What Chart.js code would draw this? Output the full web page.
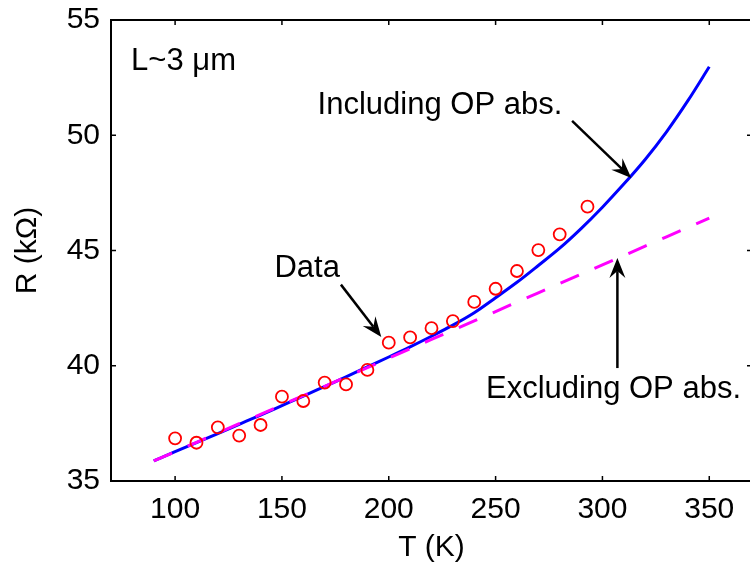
<!DOCTYPE html>
<html><head><meta charset="utf-8">
<script src="https://cdn.jsdelivr.net/npm/chart.js@4/dist/chart.umd.min.js"></script>
<style>html,body{margin:0;padding:0;overflow:hidden;background:#fff}
#wrap{width:760px;height:569px;position:relative}</style></head>
<body><div id="wrap"><canvas id="c"></canvas></div>
<script>
const xTicks = [100, 150, 200, 250, 300, 350];
const yTicks = [35, 40, 45, 50, 55];
const dataT = [100,110,120,130,140,150,160,170,180,190,200,210,220,230,240,250,260,270,280,293];
const dataR = [36.85,36.66,37.33,36.97,37.43,38.66,38.47,39.27,39.19,39.82,41.0,41.23,41.63,41.94,42.77,43.34,44.11,45.02,45.70,46.90];
const fitT = [90,100,110,120,130,140,150,160,170,180,190,200,210,220,230,240,250,260,270,280,290,300,310,320,330,340,350];
const inclR = [35.87,36.27,36.66,37.06,37.46,37.86,38.27,38.68,39.10,39.52,39.95,40.38,40.82,41.28,41.76,42.30,42.95,43.62,44.35,45.10,45.95,46.88,47.88,48.95,50.15,51.50,52.97];
const exclR = [35.87,36.27,36.68,37.08,37.49,37.89,38.30,38.70,39.11,39.52,39.92,40.33,40.73,41.14,41.54,41.95,42.35,42.76,43.16,43.57,43.97,44.38,44.78,45.19,45.59,46.00,46.40];
const noteTexts = ['L~3 μm', 'Including OP abs.', 'Data', 'Excluding OP abs.'];
const noteT = [79.4, 166.7, 146.5, 245.5];
const noteR = [52.83, 50.92, 43.86, 38.59];
const arrowFromT = [285.8, 177.6, 307];
const arrowFromR = [50.62, 43.52, 39.9];
const arrowToT = [313.5, 196.5, 307];
const arrowToR = [48.15, 41.25, 44.67];

const FONT = '"Liberation Sans", Arial, Helvetica, sans-serif';

function drawArrow(ctx, x1, y1, x2, y2) {
  const L = 20, W = 8, N = 13;
  const d = Math.hypot(x2 - x1, y2 - y1);
  const ux = (x2 - x1) / d, uy = (y2 - y1) / d;
  const nx = -uy, ny = ux;
  ctx.beginPath();
  ctx.moveTo(x1, y1);
  ctx.lineTo(x2 - N * ux, y2 - N * uy);
  ctx.stroke();
  ctx.beginPath();
  ctx.moveTo(x2, y2);
  ctx.lineTo(x2 - L * ux + W * nx, y2 - L * uy + W * ny);
  ctx.lineTo(x2 - N * ux, y2 - N * uy);
  ctx.lineTo(x2 - L * ux - W * nx, y2 - L * uy - W * ny);
  ctx.closePath();
  ctx.fill();
}

const frame = {
  id: 'frame',
  afterDraw(chart) {
    const {ctx, chartArea: a, scales: {x, y}} = chart;
    ctx.save();
    ctx.strokeStyle = '#000';
    ctx.lineWidth = 2;
    ctx.strokeRect(a.left, a.top, a.right - a.left, a.bottom - a.top);
    ctx.lineWidth = 1.5;
    const tl = 5;
    ctx.beginPath();
    xTicks.forEach(v => {
      const px = x.getPixelForValue(v);
      ctx.moveTo(px, a.bottom); ctx.lineTo(px, a.bottom - tl);
      ctx.moveTo(px, a.top); ctx.lineTo(px, a.top + tl);
    });
    yTicks.forEach(v => {
      const py = y.getPixelForValue(v);
      ctx.moveTo(a.left, py); ctx.lineTo(a.left + tl, py);
      ctx.moveTo(a.right, py); ctx.lineTo(a.right - tl, py);
    });
    ctx.stroke();
    ctx.fillStyle = '#000';
    ctx.font = '31px ' + FONT;
    ctx.textAlign = 'left';
    ctx.textBaseline = 'alphabetic';
    noteTexts.forEach((t, i) => ctx.fillText(t, x.getPixelForValue(noteT[i]), y.getPixelForValue(noteR[i])));
    ctx.lineWidth = 2.5;
    arrowFromT.forEach((t, i) => drawArrow(ctx,
      x.getPixelForValue(t), y.getPixelForValue(arrowFromR[i]),
      x.getPixelForValue(arrowToT[i]), y.getPixelForValue(arrowToR[i])));
    ctx.restore();
  }
};

new Chart(document.getElementById('c'), {
  type: 'line',
  data: {
    datasets: [
      {
        label: 'Data',
        data: dataT.map((t, i) => ({x: t, y: dataR[i]})),
        showLine: false,
        pointStyle: 'circle',
        pointRadius: 6,
        pointBorderWidth: 1.8,
        pointBorderColor: '#ff0000',
        pointBackgroundColor: 'rgba(0,0,0,0)',
        order: 0
      },
      {
        label: 'Excluding OP abs.',
        data: fitT.map((t, i) => ({x: t, y: exclR[i]})),
        borderColor: '#ff00ff',
        borderWidth: 3,
        borderDash: [20, 17],
        pointRadius: 0,
        tension: 0,
        fill: false,
        order: 1
      },
      {
        label: 'Including OP abs.',
        data: fitT.map((t, i) => ({x: t, y: inclR[i]})),
        borderColor: '#0000ff',
        borderWidth: 3,
        pointRadius: 0,
        cubicInterpolationMode: 'monotone',
        fill: false,
        order: 2
      }
    ]
  },
  options: {
    responsive: true,
    maintainAspectRatio: false,
    animation: false,
    devicePixelRatio: 1,
    layout: {padding: {left: 0, top: 20, right: 8, bottom: 0}},
    plugins: {legend: {display: false}, tooltip: {enabled: false}},
    scales: {
      x: {
        type: 'linear',
        min: 70, max: 370,
        afterBuildTicks: s => { s.ticks = xTicks.map(v => ({value: v})); },
        afterFit: s => { s.height = 88; s.paddingLeft = 0; s.paddingRight = 0; s.paddingTop = 0; s.paddingBottom = 0; },
        grid: {display: false, drawTicks: false},
        border: {display: false},
        ticks: {color: '#000', font: {family: FONT, size: 30}, padding: 11, maxRotation: 0, autoSkip: false},
        title: {display: true, text: 'T (K)', color: '#000', font: {family: FONT, size: 30}, padding: {top: 0, bottom: 3}}
      },
      y: {
        type: 'linear',
        min: 35, max: 55,
        afterBuildTicks: s => { s.ticks = yTicks.map(v => ({value: v})); },
        afterFit: s => { s.width = 111; s.paddingLeft = 0; s.paddingRight = 0; s.paddingTop = 0; s.paddingBottom = 0; },
        grid: {display: false, drawTicks: false},
        border: {display: false},
        ticks: {color: '#000', font: {family: FONT, size: 30}, padding: 11, autoSkip: false},
        title: {display: true, text: 'R (kΩ)', color: '#000', font: {family: FONT, size: 30}, padding: {top: 10, bottom: 0}}
      }
    }
  },
  plugins: [frame]
});
</script>
</body></html>
